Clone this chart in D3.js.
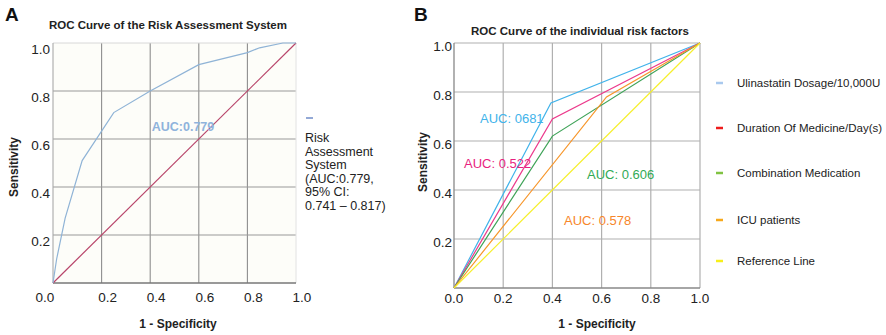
<!DOCTYPE html>
<html><head><meta charset="utf-8">
<script src="https://cdn.jsdelivr.net/npm/d3@7"></script>
<style>body{margin:0;background:#fff}svg{display:block}text{font-family:"Liberation Sans",Arial,sans-serif}</style>
</head><body><svg id="c" width="886" height="335"></svg>
<script>
// ---- data ----
const ticks = [0, 0.2, 0.4, 0.6, 0.8, 1.0];
const tickLabels = ["0.0", "0.2", "0.4", "0.6", "0.8", "1.0"];
const rocAX = [0, 0.015, 0.05, 0.12, 0.25, 0.40, 0.60, 0.80, 0.85, 0.946, 1];
const rocAY = [0, 0.10, 0.27, 0.51, 0.71, 0.80, 0.91, 0.96, 0.98, 1.0, 1];
const refX = [0, 1];
const refY = [0, 1];
const seriesB = ["Ulinastatin Dosage/10,000U", "Duration Of Medicine/Day(s)", "Combination Medication", "ICU patients", "Reference Line"];
const seriesBX = [[0, 0.394, 1], [0, 0.40, 1], [0, 0.40, 1], [0, 0.62, 1], [0, 1]];
const seriesBY = [[0, 0.755, 1], [0, 0.69, 1], [0, 0.62, 1], [0, 0.78, 1], [0, 1]];
const aucLabelsB = ["AUC: 0681", "AUC: 0.522", "AUC: 0.606", "AUC: 0.578"];
const legendA = ["Risk", "Assessment", "System", "(AUC:0.779,", "95% CI:", "0.741 – 0.817)"];

// ---- drawing ----
const svg = d3.select("#c");
const line = (xs, ys, sx, sy) => d3.line().x((d,i)=>sx(xs[i])).y((d,i)=>sy(ys[i]))(xs);

// Panel A
const xA = d3.scaleLinear([0,1],[53,296]);
const yA = d3.scaleLinear([0,1],[283,43]);
const gA = svg.append("g");
gA.append("rect").attr("x",xA(0)).attr("y",yA(1)).attr("width",xA(1)-xA(0)).attr("height",yA(0)-yA(1)).attr("fill","#fdfdf9");
gA.append("g").selectAll("line").data(ticks.slice(1,5)).join("line")
  .attr("x1",d=>xA(d)).attr("x2",d=>xA(d)).attr("y1",yA(0)).attr("y2",yA(1)).attr("stroke","#8e8e8e").attr("stroke-width",1.1);
gA.append("g").selectAll("line").data(ticks.slice(1,5)).join("line")
  .attr("y1",d=>yA(d)).attr("y2",d=>yA(d)).attr("x1",xA(0)).attr("x2",xA(1)).attr("stroke","#9a9a9a").attr("stroke-width",1.1);
gA.append("line").attr("x1",xA(0)).attr("x2",xA(1)).attr("y1",yA(1)).attr("y2",yA(1)).attr("stroke","#d8d8d8");
gA.append("line").attr("x1",xA(1)).attr("x2",xA(1)).attr("y1",yA(0)).attr("y2",yA(1)).attr("stroke","#e2e2e2");
gA.append("line").attr("x1",xA(0)).attr("x2",xA(1)).attr("y1",yA(0)).attr("y2",yA(0)).attr("stroke","#777").attr("stroke-width",1.3);
gA.append("line").attr("x1",xA(0)).attr("x2",xA(0)).attr("y1",yA(0)).attr("y2",yA(1)).attr("stroke","#aaa").attr("stroke-width",1.1);
gA.append("path").attr("d",line(refX,refY,xA,yA)).attr("fill","none").attr("stroke","#b8456a").attr("stroke-width",1.2);
gA.append("path").attr("d",line(rocAX,rocAY,xA,yA)).attr("fill","none").attr("stroke","#8fb3d6").attr("stroke-width",1.2);
gA.append("g").selectAll("text").data(ticks).join("text")
  .attr("x",d=>xA(d)+(d===0?-8:6)).attr("y",yA(0)+19).attr("text-anchor","middle").attr("font-size",13.5).attr("fill","#222")
  .text((d,i)=>tickLabels[i]);
gA.append("g").selectAll("text").data(ticks.slice(1)).join("text")
  .attr("x",xA(0)-3).attr("y",d=>yA(d)+11).attr("text-anchor","end").attr("font-size",13.5).attr("fill","#222")
  .text((d,i)=>tickLabels[i+1]);
gA.append("text").attr("x",168).attr("y",29).attr("text-anchor","middle").attr("font-size",11.5).attr("font-weight","bold").attr("fill","#222").text("ROC Curve of the Risk Assessment System");
gA.append("text").attr("x",5).attr("y",21).attr("font-size",19).attr("font-weight","bold").attr("fill","#111").text("A");
gA.append("text").attr("x",178).attr("y",328).attr("text-anchor","middle").attr("font-size",12).attr("font-weight","bold").attr("fill","#222").text("1 - Specificity");
gA.append("text").attr("transform","translate(18,167) rotate(-90)").attr("text-anchor","middle").attr("font-size",12).attr("font-weight","bold").attr("fill","#222").text("Sensitivity");
gA.append("text").attr("x",183).attr("y",131).attr("text-anchor","middle").attr("font-size",12.5).attr("font-weight","bold").attr("fill","#8fb3dc").text("AUC:0.779");
gA.append("line").attr("x1",306).attr("x2",313).attr("y1",118).attr("y2",118).attr("stroke","#6f8cc8").attr("stroke-width",1.5);
gA.append("g").selectAll("text").data(legendA).join("text")
  .attr("x",305).attr("y",(d,i)=>142+i*13.5).attr("font-size",12.5).attr("fill","#222").text(d=>d);

// Panel B
const xB = d3.scaleLinear([0,1],[454,700]);
const yB = d3.scaleLinear([0,1],[288,43]);
const colorsB = ["#41b3ea","#ec3a8c","#3fa358","#f7962a","#f6ef2c"];
const legendColors = ["#a9c9ee","#ee1c1c","#80c342","#f7a81b","#f7ef1a"];
const aucColors = ["#41b3ea","#e81f80","#32aa55","#f7862a"];
const gB = svg.append("g");
gB.append("g").selectAll("line").data(ticks.slice(1)).join("line")
  .attr("x1",d=>xB(d)).attr("x2",d=>xB(d)).attr("y1",yB(0)).attr("y2",yB(1)).attr("stroke","#b0b0b0").attr("stroke-width",1.2);
gB.append("g").selectAll("line").data(ticks.slice(1)).join("line")
  .attr("y1",d=>yB(d)).attr("y2",d=>yB(d)).attr("x1",xB(0)).attr("x2",xB(1)).attr("stroke","#b0b0b0").attr("stroke-width",1.2);
gB.append("line").attr("x1",xB(0)).attr("x2",xB(1)).attr("y1",yB(0)).attr("y2",yB(0)).attr("stroke","#888").attr("stroke-width",1.3);
gB.append("line").attr("x1",xB(0)).attr("x2",xB(0)).attr("y1",yB(0)).attr("y2",yB(1)).attr("stroke","#888").attr("stroke-width",1.3);
seriesB.forEach((s,k)=>{
  gB.append("path").attr("d",line(seriesBX[k],seriesBY[k],xB,yB)).attr("fill","none").attr("stroke",colorsB[k]).attr("stroke-width",1.2);
});
gB.append("g").selectAll("text").data(ticks).join("text")
  .attr("x",d=>xB(d)).attr("y",yB(0)+15).attr("text-anchor","middle").attr("font-size",13.5).attr("fill","#222")
  .text((d,i)=>tickLabels[i]);
gB.append("g").selectAll("text").data(ticks.slice(1)).join("text")
  .attr("x",xB(0)-2).attr("y",d=>yB(d)+8).attr("text-anchor","end").attr("font-size",13.5).attr("fill","#222")
  .text((d,i)=>tickLabels[i+1]);
gB.append("text").attr("x",580).attr("y",35).attr("text-anchor","middle").attr("font-size",11.5).attr("font-weight","bold").attr("fill","#222").text("ROC Curve of the individual risk factors");
gB.append("text").attr("x",414).attr("y",21).attr("font-size",19).attr("font-weight","bold").attr("fill","#111").text("B");
gB.append("text").attr("x",597).attr("y",328).attr("text-anchor","middle").attr("font-size",12).attr("font-weight","bold").attr("fill","#222").text("1 - Specificity");
gB.append("text").attr("transform","translate(427,162) rotate(-90)").attr("text-anchor","middle").attr("font-size",12).attr("font-weight","bold").attr("fill","#222").text("Sensitivity");
const aucPos = [[480,123],[464,168],[587,179],[564,225]];
gB.append("g").selectAll("text").data(aucLabelsB).join("text")
  .attr("x",(d,i)=>aucPos[i][0]).attr("y",(d,i)=>aucPos[i][1]).attr("font-size",13).attr("fill",(d,i)=>aucColors[i]).text(d=>d);
const legRowY = [83,128,173,220,261];
const lg = gB.append("g").selectAll("g").data(seriesB).join("g");
lg.append("line").attr("x1",716).attr("x2",723).attr("y1",(d,i)=>legRowY[i]).attr("y2",(d,i)=>legRowY[i]).attr("stroke",(d,i)=>legendColors[i]).attr("stroke-width",2.5);
lg.append("text").attr("x",737).attr("y",(d,i)=>legRowY[i]+4).attr("font-size",11.5).attr("font-family","'Open Sans',sans-serif").attr("fill","#222").text(d=>d);
</script></body></html>
